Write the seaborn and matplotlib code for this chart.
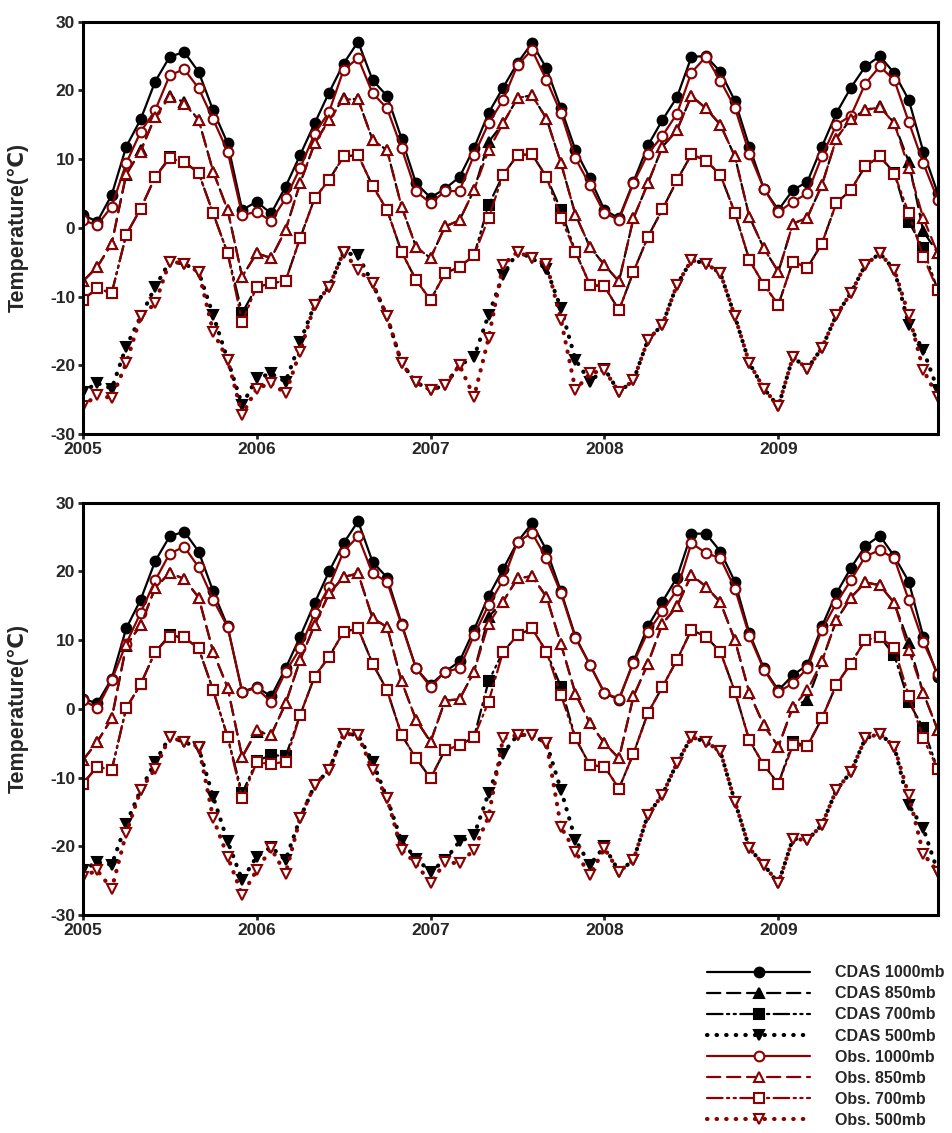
import numpy as np
import matplotlib
matplotlib.use("Agg")
import matplotlib.pyplot as plt
import seaborn as sns
import pandas as pd

# monthly values, Jan 2005 .. Dec 2009 (one row per year)
top_cdas_1000 = [1.9, 0.9, 4.8, 11.8, 15.8, 21.3, 24.9, 25.6, 22.7, 17.1, 12.3, 2.6,
                 3.8, 2.1, 6.0, 10.6, 15.2, 19.7, 23.9, 27.1, 21.5, 19.2, 13.0, 6.5,
                 4.4, 5.7, 7.4, 11.6, 16.7, 20.4, 24.0, 26.9, 23.2, 17.4, 11.3, 7.2,
                 2.6, 1.4, 6.7, 12.0, 15.7, 19.0, 24.9, 25.0, 22.7, 18.5, 11.8, 5.7,
                 2.6, 5.5, 6.7, 11.8, 16.7, 20.4, 23.5, 25.0, 22.5, 18.6, 11.1, 5.0]
top_cdas_850 = [-7.8, -5.7, -2.3, 7.7, 11.3, 16.2, 19.2, 18.3, 15.7, 8.2, 2.6, -7.1,
                -3.7, -4.4, -0.3, 6.5, 12.3, 15.7, 18.9, 18.7, 12.8, 11.3, 3.1, -2.8,
                -4.4, 0.2, 1.1, 5.5, 12.5, 15.2, 18.9, 19.3, 15.9, 9.4, 1.9, -2.8,
                -5.4, -7.8, 1.4, 6.5, 11.8, 14.2, 19.2, 17.4, 15.0, 10.4, 1.6, -3.0,
                -6.4, 0.6, 1.5, 6.2, 13.0, 15.9, 17.1, 17.8, 15.2, 9.6, -0.5, -3.7]
top_cdas_700 = [-10.5, -8.8, -9.5, -1.0, 2.8, 7.4, 10.3, 9.6, 8.0, 2.1, -3.7, -12.4,
                -8.6, -8.1, -7.7, -1.5, 4.3, 7.0, 10.4, 10.6, 6.1, 2.6, -3.5, -7.6,
                -10.5, -6.6, -5.7, -4.0, 3.3, 7.7, 10.6, 10.7, 7.4, 2.6, -3.5, -8.3,
                -8.5, -12.0, -6.4, -1.3, 2.7, 6.9, 10.7, 9.8, 7.7, 2.2, -4.7, -8.3,
                -11.2, -4.9, -5.8, -2.3, 3.6, 5.5, 9.0, 10.4, 8.0, 0.9, -3.0, -9.1]
top_cdas_500 = [-23.9, -22.6, -23.4, -17.3, -12.9, -8.6, -4.9, -5.2, -6.4, -12.7, -19.2, -25.8,
                -21.9, -21.2, -22.4, -16.6, -11.2, -8.6, -3.6, -4.0, -8.1, -12.9, -19.7, -22.5,
                -23.6, -22.9, -20.0, -18.8, -12.7, -6.9, -3.5, -4.4, -6.0, -11.7, -19.2, -22.4,
                -20.5, -23.9, -22.2, -16.3, -14.1, -8.3, -4.7, -5.2, -6.6, -12.9, -19.7, -23.4,
                -26.0, -18.8, -20.5, -17.5, -12.7, -9.5, -5.4, -3.7, -6.1, -14.1, -17.8, -23.6]
top_obs_1000 = [1.1, 0.4, 3.1, 9.4, 14.0, 17.1, 22.2, 23.1, 20.3, 15.8, 11.1, 1.9,
                2.3, 1.0, 4.3, 8.7, 13.7, 16.9, 23.0, 24.7, 19.6, 17.4, 11.6, 5.3,
                3.6, 5.3, 5.4, 10.6, 15.2, 18.6, 23.7, 25.9, 21.5, 16.7, 10.1, 6.2,
                2.1, 1.2, 6.5, 10.8, 13.4, 16.6, 22.6, 24.9, 21.4, 17.5, 10.8, 5.7,
                2.3, 3.8, 5.0, 10.4, 15.0, 16.3, 21.0, 23.5, 21.5, 15.4, 9.4, 4.1]
top_obs_850 = [-7.8, -5.7, -2.3, 7.9, 11.1, 16.2, 19.0, 18.1, 15.7, 8.2, 2.6, -7.1,
               -3.7, -4.4, -0.3, 6.5, 12.3, 15.7, 18.7, 18.7, 12.8, 11.3, 3.1, -2.8,
               -4.4, 0.2, 1.1, 5.5, 11.3, 15.2, 18.9, 19.3, 15.9, 9.4, 1.9, -2.8,
               -5.4, -7.8, 1.4, 6.5, 11.8, 14.2, 19.2, 17.4, 15.0, 10.4, 1.6, -3.0,
               -6.4, 0.6, 1.5, 6.2, 13.0, 15.9, 17.1, 17.6, 15.2, 8.7, 1.4, -3.7]
top_obs_700 = [-10.5, -8.8, -9.5, -1.0, 2.8, 7.4, 10.1, 9.6, 8.0, 2.1, -3.7, -13.7,
               -8.6, -8.1, -7.7, -1.5, 4.3, 7.0, 10.4, 10.6, 6.1, 2.6, -3.5, -7.6,
               -10.5, -6.6, -5.7, -4.0, 1.4, 7.7, 10.6, 10.7, 7.4, 1.4, -3.5, -8.3,
               -8.5, -12.0, -6.4, -1.3, 2.7, 6.9, 10.7, 9.8, 7.7, 2.2, -4.7, -8.3,
               -11.2, -4.9, -5.8, -2.3, 3.6, 5.5, 9.0, 10.4, 7.9, 2.1, -4.2, -9.1]
top_obs_500 = [-26.0, -24.3, -24.8, -19.7, -12.9, -11.0, -4.9, -5.2, -6.4, -15.1, -19.2, -27.2,
               -23.4, -22.6, -24.1, -18.0, -11.2, -8.6, -3.5, -6.1, -8.1, -12.9, -19.7, -22.5,
               -23.6, -22.9, -20.0, -24.6, -16.1, -5.4, -3.5, -4.4, -5.2, -13.4, -23.6, -21.2,
               -20.7, -23.9, -22.2, -16.3, -14.1, -8.3, -4.7, -5.2, -6.6, -12.9, -19.7, -23.4,
               -26.0, -18.8, -20.5, -17.5, -12.7, -9.5, -5.4, -3.7, -6.1, -12.7, -20.7, -24.6]

bot_cdas_1000 = [1.5, 0.8, 4.4, 11.7, 15.9, 21.5, 25.1, 25.8, 22.9, 17.1, 12.0, 2.5,
                 3.2, 1.8, 5.9, 10.5, 15.4, 20.0, 24.1, 27.3, 21.4, 19.1, 12.4, 5.9,
                 3.5, 5.4, 6.9, 11.5, 16.4, 20.3, 24.3, 27.0, 23.1, 17.1, 10.5, 6.4,
                 2.3, 1.3, 6.9, 12.0, 15.6, 19.1, 25.5, 25.5, 22.9, 18.5, 11.0, 5.9,
                 2.7, 4.9, 6.4, 12.0, 16.8, 20.5, 23.7, 25.2, 22.2, 18.5, 10.5, 4.7]
bot_cdas_850 = [-7.5, -4.8, -1.4, 9.1, 12.2, 17.6, 19.8, 18.9, 16.2, 8.3, 3.1, -7.0,
                -3.3, -3.8, 0.8, 7.1, 12.2, 16.8, 19.2, 19.7, 13.2, 11.9, 4.0, -1.6,
                -4.8, 1.2, 1.4, 5.4, 13.4, 15.6, 19.0, 19.3, 16.3, 9.4, 2.2, -2.1,
                -5.0, -7.2, 1.8, 6.6, 12.4, 14.9, 19.5, 17.8, 15.5, 10.0, 2.3, -2.4,
                -5.5, 0.3, 1.3, 6.9, 12.9, 16.2, 18.4, 18.0, 15.4, 9.6, 2.3, -3.1]
bot_cdas_700 = [-10.9, -8.4, -8.9, 0.1, 3.6, 8.3, 10.7, 10.4, 8.8, 2.7, -4.1, -12.3,
                -7.6, -6.7, -6.9, -0.9, 4.7, 7.6, 11.2, 11.7, 6.6, 2.7, -3.8, -7.2,
                -10.1, -6.0, -5.3, -4.1, 4.0, 8.3, 10.7, 11.7, 8.3, 3.2, -4.3, -8.2,
                -8.4, -11.6, -6.5, -0.6, 3.2, 7.1, 11.5, 10.5, 8.3, 2.5, -4.6, -8.2,
                -10.9, -4.8, -5.4, -1.4, 3.5, 6.6, 10.0, 10.5, 7.8, 1.0, -2.8, -8.8]
bot_cdas_500 = [-23.5, -22.3, -22.7, -16.7, -11.8, -7.7, -4.1, -4.8, -5.7, -12.8, -19.3, -24.9,
                -21.5, -20.1, -22.0, -15.9, -11.1, -8.9, -3.6, -3.8, -7.7, -13.0, -19.3, -21.8,
                -23.7, -22.0, -19.3, -18.4, -12.3, -6.5, -3.8, -3.8, -5.0, -11.8, -19.1, -22.7,
                -20.0, -23.7, -22.0, -15.4, -12.5, -7.9, -4.1, -4.8, -6.2, -13.5, -20.3, -22.7,
                -25.4, -18.9, -19.1, -16.9, -11.8, -9.2, -4.3, -3.6, -5.5, -14.0, -17.4, -23.7]
bot_obs_1000 = [1.3, 0.1, 4.2, 9.5, 14.0, 18.7, 22.6, 23.6, 20.6, 15.9, 11.9, 2.5,
                3.0, 1.0, 5.4, 8.8, 13.9, 17.8, 22.9, 25.1, 19.7, 18.5, 12.2, 5.9,
                3.2, 5.4, 5.9, 10.7, 15.1, 18.7, 24.3, 25.6, 21.9, 16.8, 10.3, 6.4,
                2.3, 1.5, 6.7, 11.2, 14.2, 17.3, 24.1, 22.7, 21.9, 17.5, 10.6, 5.7,
                2.5, 3.7, 5.9, 11.5, 15.4, 18.7, 22.2, 23.1, 21.9, 15.8, 9.7, 5.1]
bot_obs_850 = [-7.5, -4.8, -1.4, 9.3, 12.2, 17.6, 19.8, 18.9, 16.2, 8.3, 3.1, -7.0,
               -3.1, -3.8, 0.8, 7.1, 12.2, 16.8, 19.2, 19.7, 13.2, 11.9, 4.0, -1.6,
               -4.8, 1.2, 1.4, 5.4, 12.4, 15.6, 19.0, 19.3, 16.3, 9.4, 2.2, -2.1,
               -5.0, -7.2, 1.8, 6.6, 12.4, 14.9, 19.5, 17.8, 15.5, 10.0, 2.3, -2.4,
               -5.5, 0.3, 2.7, 6.9, 12.9, 16.2, 18.4, 18.0, 15.4, 8.6, 2.3, -3.1]
bot_obs_700 = [-10.9, -8.4, -8.9, 0.1, 3.6, 8.3, 10.5, 10.4, 8.8, 2.7, -4.1, -13.0,
               -7.8, -8.0, -7.7, -0.9, 4.7, 7.6, 11.2, 11.7, 6.6, 2.7, -3.8, -7.2,
               -10.1, -6.0, -5.3, -4.1, 1.0, 8.3, 10.7, 11.7, 8.3, 2.0, -4.3, -8.2,
               -8.4, -11.6, -6.5, -0.6, 3.2, 7.1, 11.5, 10.5, 8.3, 2.5, -4.6, -8.2,
               -10.9, -5.3, -5.4, -1.4, 3.5, 6.6, 10.0, 10.5, 8.8, 1.9, -4.3, -8.8]
bot_obs_500 = [-24.4, -23.5, -26.2, -18.1, -11.8, -8.7, -4.1, -4.8, -5.5, -15.9, -21.5, -27.1,
               -23.5, -20.3, -24.0, -15.9, -11.1, -8.9, -3.6, -3.8, -8.9, -13.0, -20.5, -22.5,
               -25.4, -22.3, -22.5, -20.5, -15.7, -4.3, -3.8, -3.8, -5.0, -17.2, -20.8, -24.2,
               -20.3, -23.7, -22.0, -15.4, -12.5, -7.9, -4.1, -4.8, -6.2, -13.5, -20.3, -22.7,
               -25.4, -18.9, -19.1, -16.9, -11.8, -9.2, -4.3, -3.6, -5.5, -12.6, -21.1, -23.7]

series_labels = ["CDAS 1000mb", "CDAS 850mb", "CDAS 700mb", "CDAS 500mb",
                 "Obs. 1000mb", "Obs. 850mb", "Obs. 700mb", "Obs. 500mb"]
year_ticks = [2005, 2006, 2007, 2008, 2009]
y_ticks = [-30, -20, -10, 0, 10, 20, 30]

years = 2005 + np.arange(60) / 12

RED = "#8B0000"
# (color, marker, facecolor, linestyle, linewidth)
styles = [
    ("black", "o", "black", "-", 1.6),
    ("black", "^", "black", (0, (6, 3)), 1.6),
    ("black", "s", "black", (0, (7, 2, 1, 2, 1, 2)), 1.6),
    ("black", "v", "black", (0, (0.1, 2.2)), 3.0),
    (RED, "o", "white", "-", 1.6),
    (RED, "^", "white", (0, (6, 3)), 1.6),
    (RED, "s", "white", (0, (7, 2, 1, 2, 1, 2)), 1.6),
    (RED, "v", "white", (0, (0.1, 2.2)), 3.0),
]

sns.set_style("ticks")
plt.rcParams["font.family"] = ["Liberation Sans", "DejaVu Sans"]
plt.rcParams["font.weight"] = "bold"
plt.rcParams["axes.unicode_minus"] = False

fig = plt.figure(figsize=(9.53, 11.33), dpi=100)
ax_top = fig.add_axes([0.0868, 0.617, 0.8978, 0.3638])
ax_bot = fig.add_axes([0.0868, 0.1924, 0.8978, 0.3639])

panels = [
    (ax_top, [top_cdas_1000, top_cdas_850, top_cdas_700, top_cdas_500,
              top_obs_1000, top_obs_850, top_obs_700, top_obs_500]),
    (ax_bot, [bot_cdas_1000, bot_cdas_850, bot_cdas_700, bot_cdas_500,
              bot_obs_1000, bot_obs_850, bot_obs_700, bot_obs_500]),
]

handles = []
for ax, data in panels:
    for k, (vals, lab) in enumerate(zip(data, series_labels)):
        color, marker, face, ls, lw = styles[k]
        df = pd.DataFrame({"year": years, "temp": vals})
        sns.lineplot(data=df, x="year", y="temp", ax=ax, color=color,
                     marker=marker, markersize=7, markerfacecolor=face,
                     markeredgecolor=color, markeredgewidth=1.5,
                     linestyle=ls, linewidth=lw, dash_capstyle="round",
                     errorbar=None, label=lab)
    ax.set_xlim(2005, 2005 + 59 / 12 + 0.003)
    ax.set_ylim(-30, 30)
    ax.set_xticks(year_ticks)
    ax.set_xticklabels([str(y) for y in year_ticks])
    ax.set_yticks(y_ticks)
    ax.set_xlabel("")
    ax.set_ylabel("Temperature(℃)", fontsize=15.5, fontweight="bold", labelpad=15)
    ax.tick_params(direction="out", length=3.5, width=2, labelsize=12.5, pad=2)
    for lbl in ax.get_xticklabels() + ax.get_yticklabels():
        lbl.set_fontweight("bold")
    for sp in ax.spines.values():
        sp.set_visible(True)
        sp.set_linewidth(2.2)
        sp.set_color("black")
    if ax is ax_top:
        handles = ax.get_legend_handles_labels()[0]
    ax.get_legend().remove()

fig.legend(handles, series_labels, loc="upper left",
           bbox_to_anchor=(0.742, 0.148), frameon=False, ncol=1,
           handlelength=6.45, handletextpad=1.55, labelspacing=0.38,
           borderpad=0, borderaxespad=0, numpoints=1,
           prop={"weight": "bold", "size": 11.5})

fig.savefig("out.png", dpi=100)
